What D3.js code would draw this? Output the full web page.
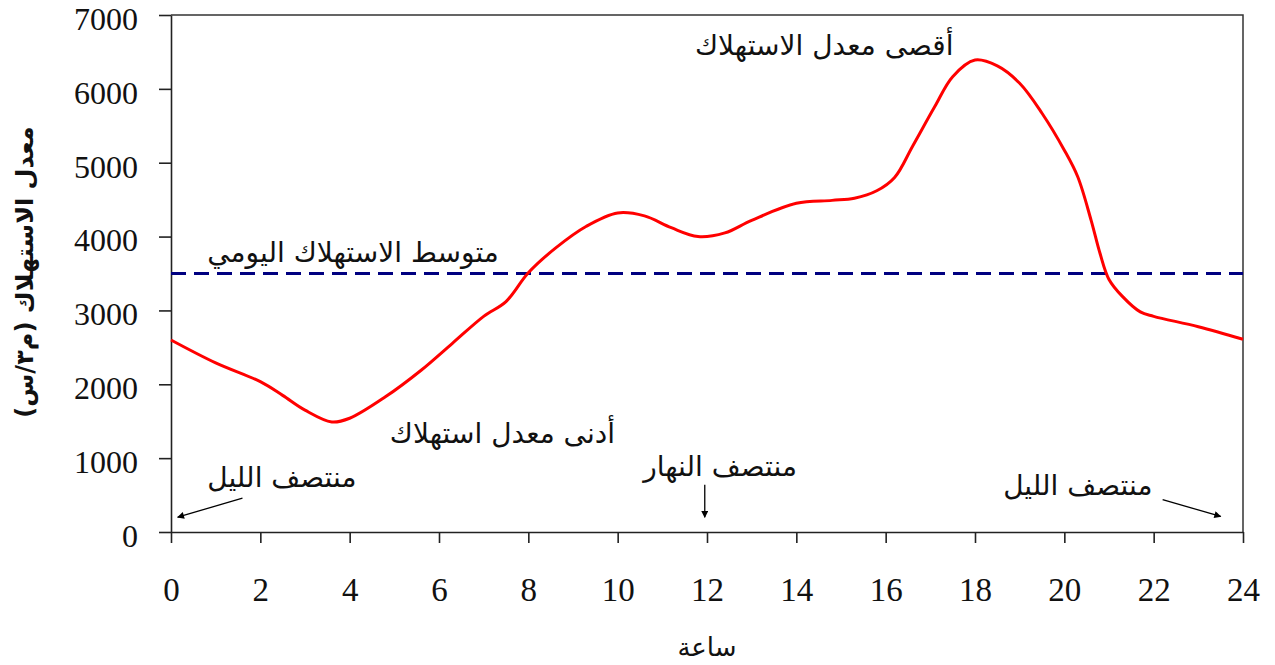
<!DOCTYPE html>
<html><head><meta charset="utf-8">
<script src="https://cdn.jsdelivr.net/npm/d3@7/dist/d3.min.js"></script>
<style>body{margin:0;background:#fff}svg{display:block}</style>
</head><body>
<svg id="c" width="1275" height="665"></svg>
<script>
const hours  = [0,1,2,2.5,3,3.6,4,4.8,5.6,6.3,7,7.5,8,8.6,9.3,10,10.6,11.2,11.8,12.4,13,14,14.8,15.3,15.8,16.2,16.6,17.1,17.5,18,18.5,19,19.5,20,20.3,20.6,20.8,21,21.3,21.7,22,23,24];
const demand = [2600,2290,2035,1850,1650,1490,1540,1830,2190,2555,2920,3120,3510,3840,4140,4320,4280,4120,4000,4050,4220,4450,4490,4520,4620,4800,5220,5760,6165,6390,6310,6075,5670,5170,4810,4220,3770,3420,3190,2980,2920,2780,2610];
const meanDemand = 3500;
const xTicks = [0,2,4,6,8,10,12,14,16,18,20,22,24];
const yTicks = [0,1000,2000,3000,4000,5000,6000,7000];
const yTitle = "معدل الاستهلاك (م٣/س)";
const xTitle = "ساعة";
const notes = [
  {text:"أقصى معدل الاستهلاك", h:11.73, v:6460},
  {text:"متوسط الاستهلاك اليومي", h:0.81, v:3655},
  {text:"أدنى معدل استهلاك", h:4.9, v:1205},
  {text:"منتصف الليل", h:0.81, v:610},
  {text:"منتصف النهار", h:10.57, v:760},
  {text:"منتصف الليل", h:18.63, v:500}
];
const arrows = [
  {h1:1.6, v1:460, h2:0.15, v2:200},
  {h1:11.95, v1:640, h2:11.95, v2:200},
  {h1:22.2, v1:440, h2:23.5, v2:210}
];

const svg = d3.select("#c");
const L=171, R=1243, T=15, B=532;
const x = d3.scaleLinear().domain([0,24]).range([L,R]);
const y = d3.scaleLinear().domain([0,7000]).range([B,T]);

svg.append("defs").append("marker").attr("id","ah").attr("viewBox","0 0 10 10")
  .attr("refX",9).attr("refY",5).attr("markerWidth",9).attr("markerHeight",7)
  .attr("markerUnits","userSpaceOnUse").attr("orient","auto")
  .append("path").attr("d","M0,0L10,5L0,10z").attr("fill","#000");

// frame top/right
svg.append("path").attr("d",`M${L},${T}H${R}V${B}`).attr("fill","none").attr("stroke","#333").attr("stroke-width",1.5);

const xa = svg.append("g").attr("transform",`translate(0,${B})`)
  .call(d3.axisBottom(x).tickValues(xTicks).tickSize(11).tickPadding(35).tickSizeOuter(0));
const ya = svg.append("g").attr("transform",`translate(${L},0)`)
  .call(d3.axisLeft(y).tickValues(yTicks).tickSize(12).tickPadding(21).tickSizeOuter(0).tickFormat(d3.format("d")));
[xa,ya].forEach(g=>{
  g.selectAll("path,line").attr("stroke","#222").attr("stroke-width",1.6);
  g.selectAll("text").attr("font-family","Liberation Serif, Times New Roman, serif").attr("font-size",32).attr("fill","#111");
});
xa.selectAll("text").attr("font-size",33);
ya.selectAll("text").attr("dy","0.45em");

// mean line
svg.append("line").attr("x1",x(0)).attr("x2",x(24)).attr("y1",y(meanDemand)).attr("y2",y(meanDemand))
  .attr("stroke","#000080").attr("stroke-width",3).attr("stroke-dasharray","15,8");

// demand curve
svg.append("path").datum(hours.map((h,i)=>[h,demand[i]]))
  .attr("d",d3.line().x(d=>x(d[0])).y(d=>y(d[1])).curve(d3.curveCatmullRom.alpha(0.5)))
  .attr("fill","none").attr("stroke","#ff0000").attr("stroke-width",3);

const af = "DejaVu Sans, Noto Sans, sans-serif";
notes.forEach(n=>{
  svg.append("text").attr("x",x(n.h)).attr("y",y(n.v)).attr("font-family",af).attr("font-size",28)
    .attr("fill","#111").attr("text-anchor","start").attr("direction","ltr").text(n.text);
});
arrows.forEach(a=>{
  svg.append("line").attr("x1",x(a.h1)).attr("y1",y(a.v1)).attr("x2",x(a.h2)).attr("y2",y(a.v2))
    .attr("stroke","#000").attr("stroke-width",1.3).attr("marker-end","url(#ah)");
});

svg.append("text").attr("x",707).attr("y",656).attr("text-anchor","middle").attr("font-family",af)
  .attr("font-size",26).attr("fill","#111").text(xTitle);
svg.append("text").attr("transform","translate(33,272) rotate(-90)").attr("text-anchor","middle")
  .attr("font-family",af).attr("font-size",24).attr("font-weight","bold").attr("fill","#111").text(yTitle);
</script>
</body></html>
